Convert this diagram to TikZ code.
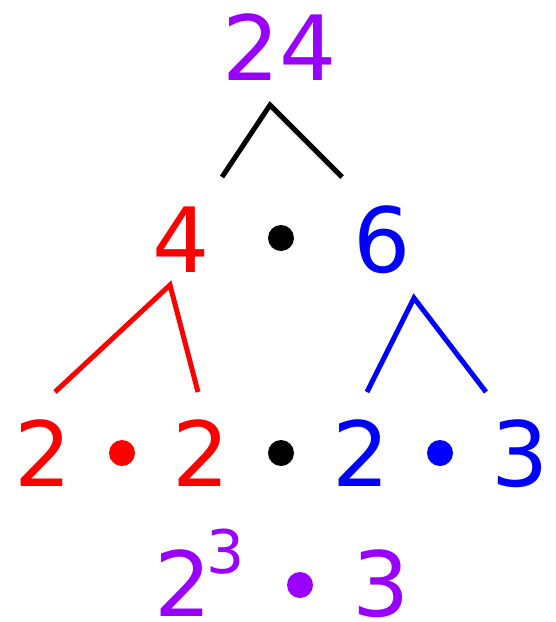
\documentclass[tikz,border=0pt]{standalone}
\usepackage{fontspec}
\setmainfont{DejaVu Sans}
\definecolor{myred}{HTML}{FF0000}
\definecolor{myblue}{HTML}{0000FF}
\definecolor{mypurple}{HTML}{9900FF}
\begin{document}
\begin{tikzpicture}[x=1pt,y=-1pt,
  num/.style={inner sep=0pt,anchor=base,font=\fontsize{90}{90}\selectfont},
  dotc/.style={circle,inner sep=0pt,minimum size=26pt},
  branch/.style={line width=5pt}]
\useasboundingbox (0,0) rectangle (555,622);
% top
\node[num,text=mypurple] (n24) at (280,80) {24};
\coordinate (t0) at (270,105);
\coordinate (t1) at (222,177);
\coordinate (t2) at (342,177);
\draw[branch,black] (t1) -- (t0) -- (t2);
% middle row
\node[num,text=myred] (n4) at (181,272) {4};
\node[dotc,fill=black] (d1) at (281,238) {};
\node[num,text=myblue] (n6) at (382,272) {6};
\coordinate (r0) at (170,285);
\coordinate (r1) at (55,392);
\coordinate (r2) at (198,392);
\draw[branch,myred] (r1) -- (r0) -- (r2);
\coordinate (b0) at (414,298);
\coordinate (b1) at (367,392);
\coordinate (b2) at (486,392);
\draw[branch,myblue] (b1) -- (b0) -- (b2);
% bottom row
\node[num,text=myred] (a1) at (43,486) {2};
\node[dotc,fill=myred] (d2) at (122,453) {};
\node[num,text=myred] (a2) at (201,486) {2};
\node[dotc,fill=black] (d3) at (281,453) {};
\node[num,text=myblue] (a3) at (361,486) {2};
\node[dotc,fill=myblue] (d4) at (440,453) {};
\node[num,text=myblue] (a4) at (520,486) {3};
% result
\node[num,text=mypurple] (p1) at (183,616) {2};
\node[inner sep=0pt,anchor=base,text=mypurple,font=\fontsize{60}{60}\selectfont] (p2) at (226,573) {3};
\node[dotc,fill=mypurple] (d5) at (300,585) {};
\node[num,text=mypurple] (p3) at (381,616) {3};
\end{tikzpicture}
\end{document}
